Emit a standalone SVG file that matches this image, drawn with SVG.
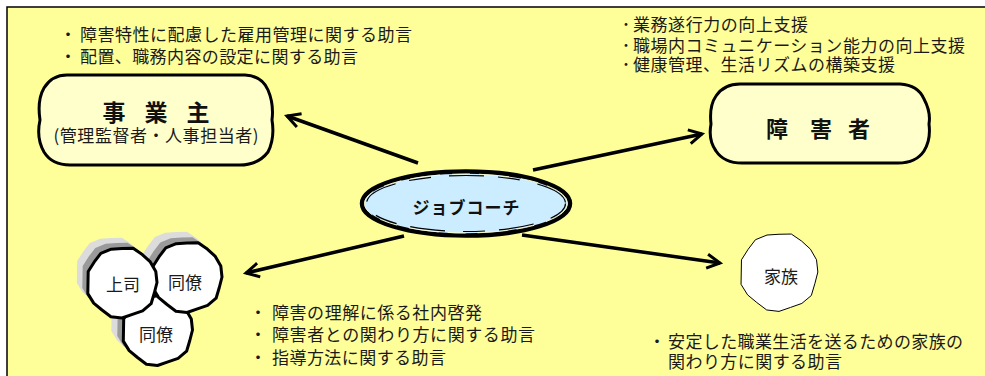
<svg xmlns="http://www.w3.org/2000/svg" xmlns:xlink="http://www.w3.org/1999/xlink" width="985" height="376" viewBox="0 0 985 376">
<style>
.t{font-family:"Noto Sans CJK JP","Noto Sans",sans-serif;font-size:17px;fill:#1a1a1a}
.b{font-family:"Noto Sans CJK JP","Noto Sans",sans-serif;font-weight:bold;fill:#111}
.node{fill:#FFFFCC;stroke:#000;stroke-width:3;stroke-linejoin:round}
.circ{fill:#fff;stroke:#000;stroke-width:3;stroke-linejoin:round}
.arrow{stroke:#000;stroke-width:3.5;fill:none;marker-end:url(#ah)}
</style>
<defs>
<marker id="ah" markerUnits="userSpaceOnUse" viewBox="-16 -10 20 20" refX="0" refY="0" markerWidth="20" markerHeight="20" orient="auto">
<path d="M-13,-7 L0,0 L-13,7" fill="none" stroke="#000" stroke-width="3" stroke-linejoin="miter"/>
</marker>
<polygon id="wob" points="35,0 32.3,10.5 29.1,21.2 20.6,28.3 10.4,31.9 0,35.5 -11.1,34.2 -20,27.5 -28.3,20.6 -34.2,11.1 -34,0 -33.8,-11 -27.9,-20.3 -21.2,-29.1 -10.8,-33.3 0,-34 11.1,-34.2 20.3,-27.9 28.3,-20.6 33.8,-11"/>
</defs>
<rect x="0" y="0" width="985" height="376" fill="#fff"/>
<rect x="7" y="7" width="978" height="369" fill="#FFFF99"/>
<path d="M7,376 L7,7 L985,7" fill="none" stroke="#000" stroke-width="1.5"/>

<g id="texts-employer">
<text class="t" x="68" y="41" text-anchor="middle">・</text>
<text class="t" x="80" y="41" textLength="332" lengthAdjust="spacing">障害特性に配慮した雇用管理に関する助言</text>
<text class="t" x="68" y="63" text-anchor="middle">・</text>
<text class="t" x="80" y="63" textLength="278" lengthAdjust="spacing">配置、職務内容の設定に関する助言</text>
</g>
<g id="texts-person">
<text class="t" x="626" y="31" text-anchor="middle">･</text>
<text class="t" x="633" y="31" textLength="175" lengthAdjust="spacing">業務遂行力の向上支援</text>
<text class="t" x="626" y="52" text-anchor="middle">･</text>
<text class="t" x="633" y="52" textLength="332" lengthAdjust="spacing">職場内コミュニケーション能力の向上支援</text>
<text class="t" x="626" y="71" text-anchor="middle">･</text>
<text class="t" x="633" y="71" textLength="262" lengthAdjust="spacing">健康管理、生活リズムの構築支援</text>
</g>
<g id="texts-coworkers">
<text class="t" x="258" y="319" text-anchor="middle">・</text>
<text class="t" x="272" y="319" textLength="210" lengthAdjust="spacing">障害の理解に係る社内啓発</text>
<text class="t" x="258" y="341" text-anchor="middle">・</text>
<text class="t" x="272" y="341" textLength="263" lengthAdjust="spacing">障害者との関わり方に関する助言</text>
<text class="t" x="258" y="364" text-anchor="middle">・</text>
<text class="t" x="272" y="364" textLength="174" lengthAdjust="spacing">指導方法に関する助言</text>
</g>
<g id="texts-family">
<text class="t" x="657" y="348" text-anchor="middle">・</text>
<text class="t" x="668" y="348" textLength="295" lengthAdjust="spacing">安定した職業生活を送るための家族の</text>
<text class="t" x="668" y="368" textLength="174" lengthAdjust="spacing">関わり方に関する助言</text>
</g>

<g id="connectors">
<line class="arrow" x1="418" y1="163" x2="287" y2="116"/>
<line class="arrow" x1="533" y1="170" x2="702" y2="134"/>
<line class="arrow" x1="404" y1="236" x2="246" y2="273"/>
<line class="arrow" x1="522" y1="235" x2="720" y2="263"/>
</g>

<g id="node-employer">
<path class="node" d="M67,75 L245,75 Q262,76 268,90 Q274,104 272,120 Q275,138 268,152 Q258,165 240,165 L70,165 Q52,165 44,152 Q36,138 40,120 Q37,100 44,88 Q52,75 67,75 Z"/>
<text class="b" font-size="23" y="121" text-anchor="middle"><tspan x="114">事</tspan><tspan x="156">業</tspan><tspan x="198">主</tspan></text>
<text class="t" x="156" y="142" text-anchor="middle" textLength="205" lengthAdjust="spacing">(管理監督者・人事担当者)</text>
</g>

<g id="node-person">
<path class="node" d="M740,84 L900,84 Q918,85 924,99 Q931,112 929,124 Q931,140 924,151 Q916,163 898,163 L742,163 Q724,163 716,151 Q708,140 711,124 Q709,106 716,96 Q724,84 740,84 Z"/>
<text class="b" font-size="22" y="137" text-anchor="middle"><tspan x="777">障</tspan><tspan x="821">害</tspan><tspan x="859">者</tspan></text>
</g>

<g id="node-jobcoach">
<ellipse cx="466" cy="203.5" rx="104" ry="32" fill="#CCECFF" stroke="#000" stroke-width="4.5"/>
<ellipse cx="466" cy="203.5" rx="101.5" ry="29.5" fill="none" stroke="#FFFFCC" stroke-width="0.9" stroke-dasharray="30 12 18 9"/>
<ellipse cx="466" cy="203.5" rx="99.5" ry="28" fill="none" stroke="#000" stroke-width="1.2" stroke-dasharray="22 18 35 14"/>
<text class="b" font-size="17" x="466" y="214" text-anchor="middle" textLength="107" lengthAdjust="spacing">ジョブコーチ</text>
</g>

<g id="node-coworker2">
<use xlink:href="#wob" href="#wob" transform="translate(145.5,320)" fill="#dcdcdc"/>
<use xlink:href="#wob" href="#wob" transform="translate(151.5,325)" fill="#9a9a9a"/>
<use xlink:href="#wob" href="#wob" class="circ" transform="translate(157.5,330)"/>
<text class="t" x="156" y="341" text-anchor="middle">同僚</text>
</g>
<g id="node-coworker1">
<use xlink:href="#wob" href="#wob" transform="translate(176,266)" fill="#dcdcdc"/>
<use xlink:href="#wob" href="#wob" transform="translate(181.5,271.5)" fill="#9a9a9a"/>
<use xlink:href="#wob" href="#wob" class="circ" transform="translate(187,277)"/>
<text class="t" x="185" y="289" text-anchor="middle">同僚</text>
</g>
<g id="node-boss">
<use xlink:href="#wob" href="#wob" transform="translate(111,272)" fill="#dcdcdc"/>
<use xlink:href="#wob" href="#wob" transform="translate(116.5,277)" fill="#9a9a9a"/>
<use xlink:href="#wob" href="#wob" class="circ" transform="translate(122,282.5)"/>
<text class="t" x="123" y="291" text-anchor="middle">上司</text>
</g>

<g id="node-family">
<use xlink:href="#wob" href="#wob" transform="translate(779,272) scale(1.11)" fill="#fff" stroke="#000" stroke-width="0.9"/>
<text class="t" font-size="18" x="781" y="283" text-anchor="middle">家族</text>
</g>
</svg>
